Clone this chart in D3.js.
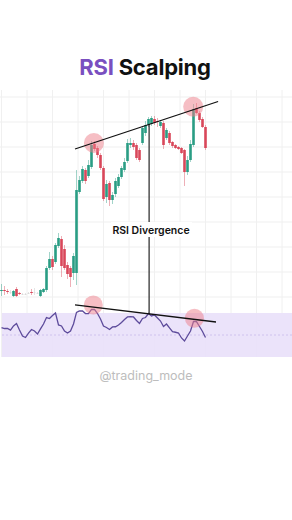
<!DOCTYPE html>
<html>
<head>
<meta charset="utf-8">
<script src="https://cdn.jsdelivr.net/npm/d3@7"></script>
<style>
  body { margin: 0; background: #fff; }
  svg { display: block; }
</style>
</head>
<body>
<svg id="chart" width="292" height="520"></svg>
<script>
// candles (price units)
var open  = [19,20,19,18,14,21,17,16,16,17,18,17.5,17,14,18,20,42,51,48,64,71,61,45,42,37,37,118,129,140,134,143,166,162,155,142,113,127,110,116,124,133,140,149,165,167,165,160,167,177,185,186,191,189,184,187,172,177,168,165,163,162,160,138,150,165,202,197,191,183];
var close = [20,19,18,17.5,19,14,16,15.5,15.5,16.5,17,17,16.5,20,21,42,51,43,65,72,44,42,36,33,54,120,130,141,129,145,165,161,155,142,111,126,110,115,129,133,142,148,167,167,163,152,150,182,185,191,192,187,188,188,165,180,167,164,162,161,157,138,150,166,201,197,190,183,162];
var high  = [26,24,21,20,20,23,18,17,17,18,21,22,18,21,22,44,58,54,67,77,74,65,48,44,57,140,134,144,142,150,169,169,164,157,144,130,129,118,132,136,144,152,171,172,170,167,162,184,189,193,194,194,192,190,189,182,179,169,166,164,163,161,154,170,206,207,199,193,185];
var low   = [14,15,16,16,13,13,15,15,15,16,15,15,16,13,17,18,40,40,46,62,33,40,31,23,30,25,116,127,126,132,141,159,152,140,109,107,104,106,113,122,131,138,147,162,160,150,148,165,174,183,184,185,183,182,161,170,165,162,161,160,156,124,135,148,163,196,188,182,160];

// RSI value per candle
var rsi = [56.8,55.9,55.9,54.5,58.2,60.5,54.5,49.1,47.7,51.8,55.0,53.6,50.9,55.5,60.0,65.9,65.0,67.7,70.0,59.1,58.2,53.6,51.8,53.6,60.0,70.5,71.8,71.8,69.5,69.5,73.2,73.2,69.5,64.5,58.2,56.8,55.0,57.3,57.5,59.1,61.4,64.1,66.4,66.6,66.4,63.2,60.5,65.0,65.9,69.5,67.3,68.2,65.5,62.7,57.7,60.0,56.4,53.0,52.5,51.8,47.3,44.5,49.1,53.6,62.3,62.1,57.7,53.2,47.7];

var gridPrice = [13,38,63,88,113,138,163,188,213];
var gridIndex = d3.range(0, 97, 8.5);

// annotations (candle index / price or rsi)
var upperTrend = [{i:24.5, v:161}, {i:72.2, v:208.5}];
var lowerTrend = [{i:24.5, v:77.3}, {i:71.5, v:61.8}];
var priceCircles = [{i:30.8, v:167}, {i:63.9, v:203.3}];
var rsiCircles = [{i:30.6, v:77.3}, {i:64.3, v:65.2}];
var divergence = {i:49.2, top:186, bottom:69.1};

var svg = d3.select("#chart");
var x = d3.scaleLinear().domain([0, 68]).range([1.5, 205.5]);
var yPrice = d3.scaleLinear().domain([0, 210]).range([310, 100]);
var yRsi = d3.scaleLinear().domain([30, 70]).range([357, 313]);

var green = "#2a9d84", red = "#d9475a", flat = "#c4c4c4";
function colour(i) {
  if (Math.abs(close[i] - open[i]) < 1) return flat;
  return close[i] >= open[i] ? green : red;
}

// title
var title = svg.append("text")
  .attr("x", 145).attr("y", 75)
  .attr("text-anchor", "middle")
  .style("font-family", "Inter, 'Open Sans', sans-serif")
  .style("font-weight", 700)
  .style("font-size", "22px")
  .style("letter-spacing", "-0.2px");
title.append("tspan").attr("fill", "#7a4fc0").text("RSI");
title.append("tspan").attr("fill", "#111").text(" Scalping");

// grid
svg.append("g").selectAll("line").data(gridPrice).enter().append("line")
  .attr("x1", 0).attr("x2", 292)
  .attr("y1", function(d) { return yPrice(d); })
  .attr("y2", function(d) { return yPrice(d); })
  .attr("stroke", "#efefef").attr("stroke-width", 1);

svg.append("g").selectAll("line").data(gridIndex).enter().append("line")
  .attr("x1", function(d) { return x(d); })
  .attr("x2", function(d) { return x(d); })
  .attr("y1", 90).attr("y2", 357)
  .attr("stroke", "#f0f0f0").attr("stroke-width", 1);

// rsi band
svg.append("rect")
  .attr("x", 2).attr("width", 290)
  .attr("y", yRsi(70)).attr("height", yRsi(30) - yRsi(70))
  .attr("fill", "#e9e0fa").attr("opacity", 0.9);
svg.append("line")
  .attr("x1", 2).attr("x2", 292)
  .attr("y1", yRsi(50)).attr("y2", yRsi(50))
  .attr("stroke", "#cfc2ee").attr("stroke-dasharray", "2,2");

// candles
var candles = svg.append("g").selectAll("g").data(open).enter().append("g");
candles.append("line")
  .attr("x1", function(d, i) { return x(i); })
  .attr("x2", function(d, i) { return x(i); })
  .attr("y1", function(d, i) { return yPrice(high[i]); })
  .attr("y2", function(d, i) { return yPrice(low[i]); })
  .attr("stroke", function(d, i) { return colour(i); })
  .attr("stroke-opacity", 0.55)
  .attr("stroke-width", 0.8);
candles.append("rect")
  .attr("x", function(d, i) { return x(i) - 1.3; })
  .attr("width", 2.6)
  .attr("y", function(d, i) { return yPrice(Math.max(open[i], close[i])); })
  .attr("height", function(d, i) { return Math.max(0.6, Math.abs(yPrice(open[i]) - yPrice(close[i]))); })
  .attr("fill", function(d, i) { return colour(i); })
  .attr("fill-opacity", function(d, i) { return colour(i) === flat ? 0.5 : 1; });

// rsi line
svg.append("path")
  .datum(rsi)
  .attr("fill", "none")
  .attr("stroke", "#5d4b9b")
  .attr("stroke-width", 1.3)
  .attr("d", d3.line().x(function(d, i) { return x(i); }).y(function(d) { return yRsi(d); }));

// circles
svg.append("g").selectAll("circle").data(priceCircles).enter().append("circle")
  .attr("cx", function(d) { return x(d.i); })
  .attr("cy", function(d) { return yPrice(d.v); })
  .attr("r", 10)
  .attr("fill", "#ee7d8a").attr("opacity", 0.5);
svg.append("g").selectAll("circle").data(rsiCircles).enter().append("circle")
  .attr("cx", function(d) { return x(d.i); })
  .attr("cy", function(d) { return yRsi(d.v); })
  .attr("r", 9.5)
  .attr("fill", "#ee7d8a").attr("opacity", 0.5);

// trend lines
svg.append("line")
  .attr("x1", x(upperTrend[0].i)).attr("y1", yPrice(upperTrend[0].v))
  .attr("x2", x(upperTrend[1].i)).attr("y2", yPrice(upperTrend[1].v))
  .attr("stroke", "#111").attr("stroke-width", 1.3);
svg.append("line")
  .attr("x1", x(lowerTrend[0].i)).attr("y1", yRsi(lowerTrend[0].v))
  .attr("x2", x(lowerTrend[1].i)).attr("y2", yRsi(lowerTrend[1].v))
  .attr("stroke", "#111").attr("stroke-width", 1.3);
svg.append("line")
  .attr("x1", x(divergence.i)).attr("x2", x(divergence.i))
  .attr("y1", yPrice(divergence.top)).attr("y2", yRsi(divergence.bottom))
  .attr("stroke", "#111").attr("stroke-width", 1.1);

// label
svg.append("rect")
  .attr("x", 111).attr("y", 222).attr("width", 81).attr("height", 15)
  .attr("fill", "#fff");
svg.append("text")
  .attr("x", 151).attr("y", 233.5)
  .attr("text-anchor", "middle")
  .style("font-family", "Inter, 'Open Sans', sans-serif")
  .style("font-weight", 600)
  .style("font-size", "10.5px")
  .attr("fill", "#111")
  .text("RSI Divergence");

// watermark
svg.append("text")
  .attr("x", 146).attr("y", 380)
  .attr("text-anchor", "middle")
  .style("font-family", "Inter, 'Open Sans', sans-serif")
  .style("font-size", "12.5px")
  .attr("fill", "#bdbdbd")
  .text("@trading_mode");
</script>
</body>
</html>
